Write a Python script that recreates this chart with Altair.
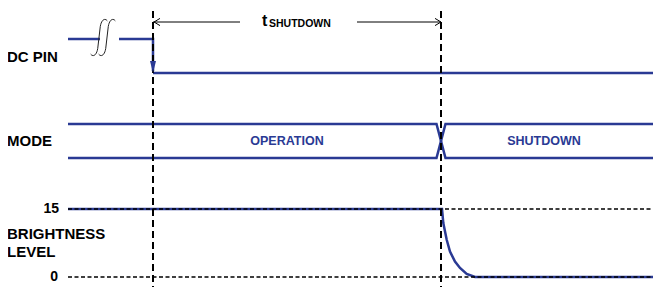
import altair as alt
import pandas as pd

BLUE = "#2a3a94"
FONT = "Liberation Sans"

# ---- timing markers (horizontal, time units) ----
t_start = 68
t_break_left = 100
t_break_right = 119
t_dc_fall = 153
t_mode_switch = 441
t_end = 661
cross_half = 4.5

# ---- signal rows (vertical positions) ----
row_arrow = 22
dc_high = 39
dc_low = 73
mode_top = 124
mode_bot = 158
level_15_y = 209
level_0_y = 277
max_level = 15

# brightness decay after shutdown: time and level
decay_t = [441, 442, 443.3, 446.7, 450, 455, 460, 466.7, 475, 661]
decay_level = [15, 15, 11.9, 8.2, 5.6, 3.4, 2.0, 0.7, 0, 0]

# t_SHUTDOWN arrow segments
arrow_left_end = 240
arrow_right_start = 357

# labels
row_labels = ["DC PIN", "MODE", "BRIGHTNESS", "LEVEL"]
row_label_y = [57, 141, 234, 252]
level_labels = ["15", "0"]
mode_labels = ["OPERATION", "SHUTDOWN"]


def lvl_to_y(v):
    return level_0_y - v * (level_0_y - level_15_y) / max_level


# ---- signal polylines ----
segs = {
    "dc1": [(t_start, dc_high), (t_break_left, dc_high)],
    "dc2": [(t_break_right, dc_high), (t_dc_fall, dc_high), (t_dc_fall, dc_low - 2)],
    "dc3": [(t_dc_fall, dc_low), (t_end, dc_low)],
    "modeA": [(t_start, mode_top), (t_mode_switch - cross_half, mode_top),
              (t_mode_switch + cross_half, mode_bot), (t_end, mode_bot)],
    "modeB": [(t_start, mode_bot), (t_mode_switch - cross_half, mode_bot),
              (t_mode_switch + cross_half, mode_top), (t_end, mode_top)],
    "bright": [(t_start, lvl_to_y(max_level))] + [(t, lvl_to_y(v)) for t, v in zip(decay_t, decay_level)],
}
rows = []
for name, pts in segs.items():
    for i, (x, y) in enumerate(pts):
        rows.append({"seg": name, "ord": i, "x": x, "y": y})
sig_df = pd.DataFrame(rows)

X = alt.X("x:Q", scale=alt.Scale(domain=[8, 653], zero=False, nice=False), axis=None)
Y = alt.Y("y:Q", scale=alt.Scale(domain=[8, 287], zero=False, nice=False, reverse=True), axis=None)

signals = alt.Chart(sig_df).mark_line(color=BLUE, strokeWidth=2.5, strokeJoin="miter").encode(
    x=X, y=Y, detail="seg:N", order="ord:Q"
)

# dashed vertical markers
vdf = pd.DataFrame({"x": [t_dc_fall, t_mode_switch], "y": [0, 0], "y2": [295, 295]})
vrules = alt.Chart(vdf).mark_rule(color="black", strokeWidth=2, strokeDash=[7, 4]).encode(
    x=X, y=Y, y2="y2:Q"
)

# dashed level references
hdf = pd.DataFrame({"x": [t_start, t_start], "x2": [t_end, t_end],
                    "y": [lvl_to_y(15), lvl_to_y(0)]})
hrules = alt.Chart(hdf).mark_rule(color="black", strokeWidth=1.5, strokeDash=[4, 2.5]).encode(
    x=X, x2="x2:Q", y=Y
)

# t_SHUTDOWN arrow lines
adf = pd.DataFrame({"x": [t_dc_fall, arrow_right_start], "x2": [arrow_left_end, t_mode_switch],
                    "y": [row_arrow, row_arrow]})
arrows = alt.Chart(adf).mark_rule(color="black", strokeWidth=1).encode(x=X, x2="x2:Q", y=Y)

left_head = alt.Chart(pd.DataFrame({"x": [t_dc_fall + 1], "y": [row_arrow]})).mark_point(
    shape="M1,-0.6L0,0L1,0.6", size=144, filled=False, color="black", strokeWidth=1, opacity=1
).encode(x=X, y=Y)
right_head = alt.Chart(pd.DataFrame({"x": [t_mode_switch], "y": [row_arrow]})).mark_point(
    shape="M-1,-0.6L0,0L-1,0.6", size=144, filled=False, color="black", strokeWidth=1, opacity=1
).encode(x=X, y=Y)

# DC pin falling arrowhead
dc_head = alt.Chart(pd.DataFrame({"x": [t_dc_fall], "y": [dc_low - 6]})).mark_point(
    shape="M-0.5,-1L0.5,-1L0,1Z", size=144, filled=True, color=BLUE, opacity=1
).encode(x=X, y=Y)

# break symbol (two integral-like strokes)
brk = alt.Chart(pd.DataFrame({"x": [99, 107], "y": [37.5, 37.5]})).mark_point(
    shape="M0.45,-0.9C0.34,-1.05 0.14,-1 0.07,-0.6L-0.07,0.6C-0.14,1 -0.34,1.05 -0.45,0.9",
    size=1369, filled=False, color="#222222", strokeWidth=1, opacity=1
).encode(x=X, y=Y)

# labels
left_df = pd.DataFrame({"x": [7] * 4, "y": row_label_y, "t": row_labels})
left_txt = alt.Chart(left_df).mark_text(
    align="left", baseline="middle", font=FONT, fontWeight="bold", fontSize=15, color="black"
).encode(x=X, y=Y, text="t:N")

num_df = pd.DataFrame({"x": [59, 58], "y": [lvl_to_y(15), lvl_to_y(0)], "t": level_labels})
num_txt = alt.Chart(num_df).mark_text(
    align="right", baseline="middle", font=FONT, fontWeight="bold", fontSize=14, color="black"
).encode(x=X, y=Y, text="t:N")

mode_df = pd.DataFrame({"x": [287, 544], "y": [141, 141], "t": mode_labels})
mode_txt = alt.Chart(mode_df).mark_text(
    align="center", baseline="middle", font=FONT, fontWeight="bold", fontSize=12.5, color=BLUE
).encode(x=X, y=Y, text="t:N")

t_txt = alt.Chart(pd.DataFrame({"x": [262], "y": [21], "t": ["t"]})).mark_text(
    align="left", baseline="middle", font=FONT, fontWeight="bold", fontSize=16, color="black"
).encode(x=X, y=Y, text="t:N")
sub_txt = alt.Chart(pd.DataFrame({"x": [269], "y": [24], "t": ["SHUTDOWN"]})).mark_text(
    align="left", baseline="middle", font=FONT, fontWeight="bold", fontSize=10.5, color="black"
).encode(x=X, y=Y, text="t:N")

chart = alt.layer(
    signals, vrules, hrules, arrows, left_head, right_head, dc_head, brk,
    left_txt, num_txt, mode_txt, t_txt, sub_txt
).properties(
    width=645, height=279,
    padding=0,
    autosize=alt.AutoSizeParams(type="none"),
).configure_view(stroke=None)

chart.save("out.html", embed_options={"renderer": "svg", "actions": False})
